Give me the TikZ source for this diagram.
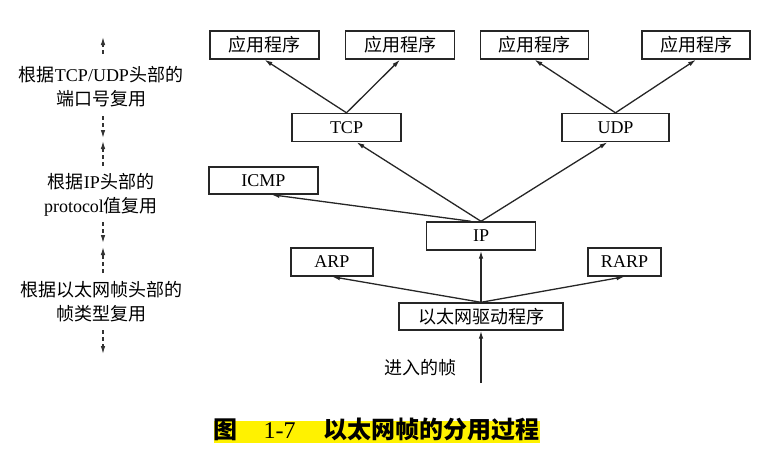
\documentclass[tikz,border=0pt]{standalone}
\usepackage{fontspec}
\setmainfont{Liberation Serif}
\newfontfamily\cjk{Noto Sans CJK SC}
\newcommand{\zh}[1]{{\cjk #1}}
\usetikzlibrary{calc,arrows.meta}

\begin{document}
\begin{tikzpicture}[x=1pt,y=-1pt,line width=1.3pt,>={Latex[length=8pt,width=4.6pt]},
  box/.style={draw=black!85,line width=1.4pt,minimum height=28pt,inner sep=0pt,font=\fontsize{18pt}{24pt}\selectfont},
  lab/.style={align=center,inner sep=0pt,font=\fontsize{18pt}{24pt}\selectfont},
  arr/.style={->,draw=black!85},
  dsh/.style={->,draw=black!80,line width=1.2pt,dash pattern=on 4pt off 3pt}]
  \useasboundingbox (0,0) rectangle (778,469);
  % 应用程序
  \node[box,minimum width=109pt] (app1) at (264.5,45){\zh{应用程序}};
  \node[box,minimum width=109pt] (app2) at (400,45){\zh{应用程序}};
  \node[box,minimum width=108pt] (app3) at (534.5,45){\zh{应用程序}};
  \node[box,minimum width=108pt] (app4) at (696,45){\zh{应用程序}};
  \node[box,minimum width=109pt] (tcp) at (346.5,127.5){TCP};
  \node[box,minimum width=107pt] (udp) at (615.5,127.5){UDP};
  \node[box,minimum width=109pt,minimum height=27pt] (icmp) at (263.5,180.5){ICMP};
  \node[box,minimum width=109pt] (ip) at (481,236){IP};
  \node[box,minimum width=82pt] (arp) at (332,262){ARP};
  \node[box,minimum width=73pt] (rarp) at (624.5,262){RARP};
  \node[box,minimum width=164pt,minimum height=27pt] (drv) at (481,316.5){\zh{以太网驱动程序}};
  \coordinate (in) at (481,383);
  \node[lab] (inlab) at (420,368){\zh{进入的帧}};
  % 分用箭头
  \draw[arr] (tcp.north)--(app1.south); \draw[arr] (tcp.north)--(app2.south);
  \draw[arr] (udp.north)--(app3.south); \draw[arr] (udp.north)--(app4.south);
  \draw[arr] (ip.north)--([xshift=10pt]tcp.south); \draw[arr] (ip.north)--([xshift=-8pt]udp.south);
  \draw[arr] ([xshift=-10pt]ip.north)--([xshift=8pt]icmp.south);
  \draw[arr] (drv.north)--(arp.south); \draw[arr] (drv.north)--(ip.south); \draw[arr] (drv.north)--(rarp.south);
  \draw[arr] (in)--(drv.south);
  % 左侧说明
  \node[lab] (l1) at (101,87){\zh{根据}TCP/UDP\zh{头部的}\\\zh{端口号复用}};
  \node[lab] (l2) at (101,195){\zh{根据}IP\zh{头部的}\\protocol\zh{值复用}};
  \node[lab] (l3) at (101,301.5){\zh{根据以太网帧头部的}\\\zh{帧类型复用}};
  \coordinate (a1) at (103,54); \coordinate (b1) at (103,37);
  \coordinate (a2) at (103,116); \coordinate (b2) at (103,138);
  \coordinate (a3) at (103,166); \coordinate (b3) at (103,141);
  \coordinate (a4) at (103,222); \coordinate (b4) at (103,243);
  \coordinate (a5) at (103,273); \coordinate (b5) at (103,247);
  \coordinate (a6) at (103,330); \coordinate (b6) at (103,354);
  \draw[dsh] (a1)--(b1); \draw[dsh] (a2)--(b2); \draw[dsh] (a3)--(b3);
  \draw[dsh] (a4)--(b4); \draw[dsh] (a5)--(b5); \draw[dsh] (a6)--(b6);
  % 图题
  \node[anchor=west,fill=yellow,inner sep=0pt,text height=17pt,text depth=5pt,font=\fontsize{24pt}{28pt}\selectfont] (cap) at (213,432)
    {\zh{\bfseries 图}\hspace{26pt}1-7\hspace{28pt}\zh{\bfseries 以太网帧的分用过程}\hspace{4pt}};
\end{tikzpicture}
\end{document}
